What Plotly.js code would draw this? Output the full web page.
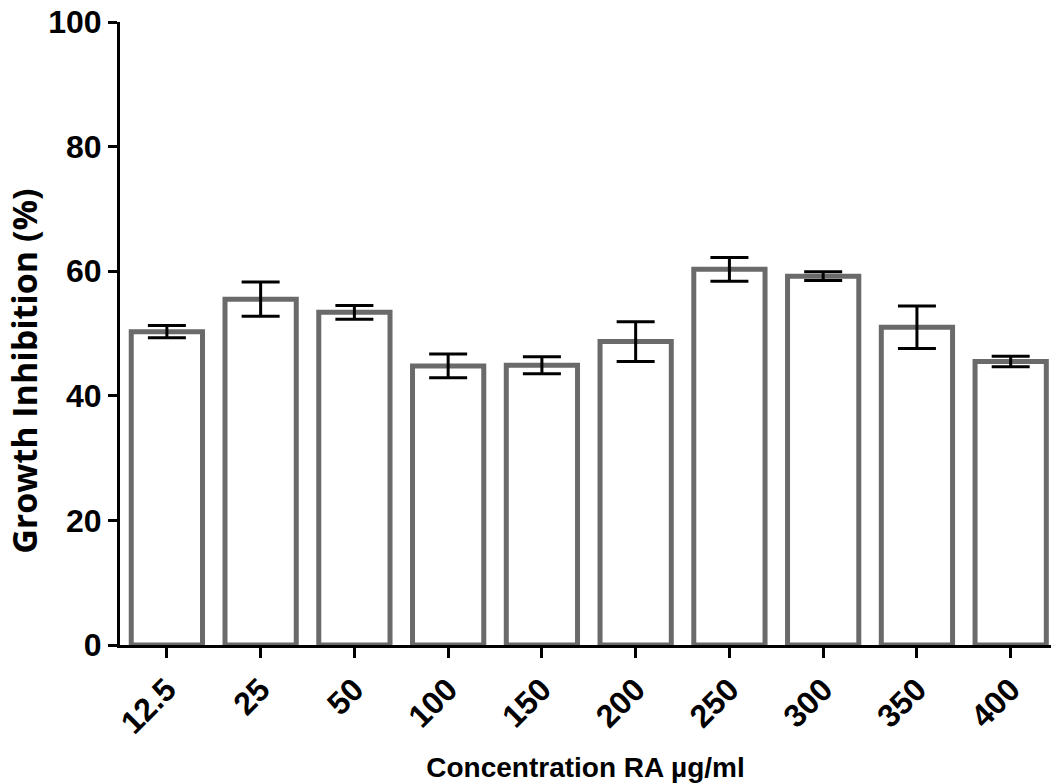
<!DOCTYPE html>
<html>
<head>
<meta charset="utf-8">
<script src="https://cdn.plot.ly/plotly-3.0.1.min.js"></script>
<style>html,body{margin:0;padding:0;background:#fff;}#chart{width:1051px;height:784px;}</style>
</head>
<body>
<div id="chart"></div>
<script>
const categories = ["12.5", "25", "50", "100", "150", "200", "250", "300", "350", "400"];
const inhibition = [50.3, 55.5, 53.4, 44.8, 44.9, 48.7, 60.3, 59.2, 51.0, 45.5];
const errors = [1.0, 2.75, 1.1, 1.9, 1.35, 3.2, 1.9, 0.7, 3.4, 0.85];
const yTickVals = [0, 20, 40, 60, 80, 100];
const xTitle = "Concentration RA µg/ml";
const yTitle = "Growth Inhibition (%)";

const trace = {
  type: "bar",
  x: categories,
  y: inhibition,
  width: 0.76,
  marker: { color: "#ffffff", line: { color: "#6a6a6a", width: 5 } },
  error_y: { type: "data", array: errors, visible: true, color: "#000000", thickness: 3, width: 19 },
  hoverinfo: "none"
};

const layout = {
  width: 1051,
  height: 784,
  margin: { l: 120, r: 0, t: 22, b: 139 },
  paper_bgcolor: "#ffffff",
  plot_bgcolor: "#ffffff",
  showlegend: false,
  xaxis: {
    type: "category",
    range: [-0.5, 9.43],
    showline: true,
    linecolor: "#000000",
    linewidth: 3,
    ticks: "outside",
    ticklen: 10,
    tickwidth: 3,
    tickcolor: "#000000",
    tickangle: -45,
    tickfont: { family: "Liberation Sans, Arial, sans-serif", size: 32, color: "#000000", weight: "bold" },
    showgrid: false,
    zeroline: false,
    title: { text: xTitle, font: { family: "Liberation Sans, Arial, sans-serif", size: 28, color: "#000000", weight: "bold" }, standoff: 18 }
  },
  yaxis: {
    range: [0, 100],
    tickvals: yTickVals,
    ticktext: yTickVals.map(String),
    showline: true,
    linecolor: "#000000",
    linewidth: 3,
    ticks: "outside",
    ticklen: 9,
    tickwidth: 3,
    tickcolor: "#000000",
    tickfont: { family: "Liberation Sans, Arial, sans-serif", size: 32, color: "#000000", weight: "bold" },
    showgrid: false,
    zeroline: false
  },
  annotations: [{
    text: yTitle,
    textangle: -90,
    xref: "paper", yref: "paper",
    x: -0.1031, y: 0.4385,
    xanchor: "center", yanchor: "middle",
    showarrow: false,
    font: { family: "Open Sans, sans-serif", size: 34, color: "#000000", weight: "bold" }
  }]
};

Plotly.newPlot("chart", [trace], layout, { staticPlot: true, displayModeBar: false });
</script>
</body>
</html>
